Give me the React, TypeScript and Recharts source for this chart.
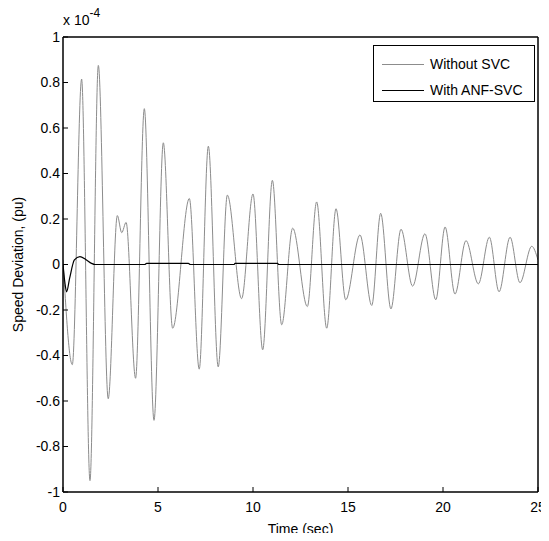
import React from "react";
import { Legend, Line, LineChart, XAxis, YAxis } from "recharts";

// speed deviation in units of 1e-4 pu (peaks and troughs)
const noSvcTime = [
  0, 0.49, 0.98, 1.42, 1.86, 2.38, 2.86, 3.09, 3.32, 3.82, 4.28, 4.79, 5.28, 5.77, 6.65, 7.17, 7.65, 8.17, 8.65, 9.4,
  10.0, 10.51, 11.02, 11.51, 12.09, 12.86, 13.35, 13.88, 14.37, 14.88, 15.63, 16.25, 16.72, 17.26, 17.79, 18.4, 19.05,
  19.62, 20.11, 20.63, 21.21, 21.86, 22.44, 22.95, 23.53, 24.05, 24.67, 25.0,
];
const noSvcValue = [
  0.02, -0.44, 0.815, -0.95, 0.875, -0.59, 0.215, 0.14, 0.185, -0.5, 0.685, -0.685, 0.535, -0.28, 0.29, -0.46, 0.52,
  -0.45, 0.305, -0.15, 0.31, -0.375, 0.37, -0.265, 0.16, -0.185, 0.275, -0.28, 0.245, -0.155, 0.13, -0.18, 0.225,
  -0.195, 0.155, -0.095, 0.135, -0.155, 0.165, -0.13, 0.105, -0.085, 0.12, -0.12, 0.12, -0.08, 0.08, 0.02,
];

const anfTime = [0, 0.1, 0.19, 0.35, 0.6, 0.89, 1.2, 1.5, 1.7, 4.3, 4.4, 6.6, 6.7, 9.0, 9.05, 11.3, 11.35, 25];
const anfValue = [0, -0.08, -0.12, -0.06, 0.02, 0.035, 0.022, 0.005, 0, 0, 0.005, 0.005, 0, 0, 0.005, 0.005, 0, 0];

const xTicks = [0, 5, 10, 15, 20, 25];
const yTicks = [-1, -0.8, -0.6, -0.4, -0.2, 0, 0.2, 0.4, 0.6, 0.8, 1];

const seriesNames = ["Without SVC", "With ANF-SVC"];
const seriesColors = ["#8c8c8c", "#000000"];

const withoutSvc = noSvcTime.map((t, i) => ({ t, v: noSvcValue[i] }));
const withAnf = anfTime.map((t, i) => ({ t, v: anfValue[i] }));

const font = "'Liberation Sans', Arial, sans-serif";
const fmtY = (v: number) => String(Math.round(v * 10) / 10);

const LegendBox = () => (
  <div
    style={{
      width: 162,
      height: 57,
      boxSizing: "border-box",
      border: "1px solid #000",
      background: "#fff",
      fontFamily: font,
      fontSize: 14,
      paddingTop: 8,
    }}
  >
    {seriesNames.map((name, i) => (
      <div key={name} style={{ display: "flex", alignItems: "center", height: 20, marginBottom: i === 0 ? 6 : 0 }}>
        <span style={{ display: "inline-block", width: 42, height: 0, borderTop: `1px solid ${seriesColors[i]}`, marginLeft: 8, marginRight: 6 }} />
        <span>{name}</span>
      </div>
    ))}
  </div>
);

export default function App() {
  const axisStroke = { stroke: "#000", strokeWidth: 1.5 };
  const tickStroke = { stroke: "#000", strokeWidth: 1 };
  return (
    <div style={{ position: "relative", width: 541, height: 533, marginBottom: -8, fontFamily: font }}>
      <div style={{ position: "absolute", left: 55, top: 4, fontSize: 14, whiteSpace: "nowrap" }}>
        x 10<span style={{ position: "relative", top: -8, fontSize: 12 }}>-4</span>
      </div>
      <LineChart width={541} height={533} margin={{ top: 28, right: 10, left: 0, bottom: 0 }}>
        <XAxis
          xAxisId="bottom"
          dataKey="t"
          type="number"
          domain={[0, 25]}
          ticks={xTicks}
          allowDataOverflow
          interval={0}
          height={49}
          tickSize={-5}
          tickMargin={15}
          axisLine={axisStroke}
          tickLine={tickStroke}
          tick={{ fill: "#000", fontSize: 14, fontFamily: font }}
          label={{ value: "Time (sec)", position: "insideBottom", offset: 7, fill: "#000", fontSize: 14, fontFamily: font }}
        />
        <XAxis
          xAxisId="top"
          orientation="top"
          dataKey="t"
          type="number"
          domain={[0, 25]}
          ticks={xTicks}
          allowDataOverflow
          height={1}
          tickSize={-5}
          tick={false}
          axisLine={axisStroke}
          tickLine={tickStroke}
        />
        <YAxis
          yAxisId="left"
          type="number"
          domain={[-1, 1]}
          ticks={yTicks}
          allowDataOverflow
          interval={0}
          width={55}
          tickSize={-5}
          tickMargin={8}
          tickFormatter={fmtY}
          axisLine={axisStroke}
          tickLine={tickStroke}
          tick={{ fill: "#000", fontSize: 14, fontFamily: font }}
          label={{
            value: "Speed Deviation, (pu)",
            angle: -90,
            position: "insideLeft",
            offset: 10,
            fill: "#000",
            fontSize: 14,
            fontFamily: font,
            style: { textAnchor: "middle" },
          }}
        />
        <YAxis
          yAxisId="right"
          orientation="right"
          type="number"
          domain={[-1, 1]}
          ticks={yTicks}
          allowDataOverflow
          width={1}
          tickSize={-5}
          tick={false}
          axisLine={axisStroke}
          tickLine={tickStroke}
        />
        <Legend
          layout="horizontal"
          verticalAlign="middle"
          align="center"
          content={<LegendBox />}
          wrapperStyle={{ left: 365, top: 37, width: 162, height: 57 }}
        />
        <Line
          name={seriesNames[0]}
          data={withoutSvc}
          dataKey="v"
          xAxisId="top"
          yAxisId="right"
          type="monotone"
          dot={false}
          stroke={seriesColors[0]}
          strokeWidth={1}
          isAnimationActive={false}
        />
        <Line
          name={seriesNames[1]}
          data={withAnf}
          dataKey="v"
          xAxisId="bottom"
          yAxisId="left"
          type="monotone"
          dot={false}
          stroke={seriesColors[1]}
          strokeWidth={1.2}
          isAnimationActive={false}
        />
      </LineChart>
    </div>
  );
}
